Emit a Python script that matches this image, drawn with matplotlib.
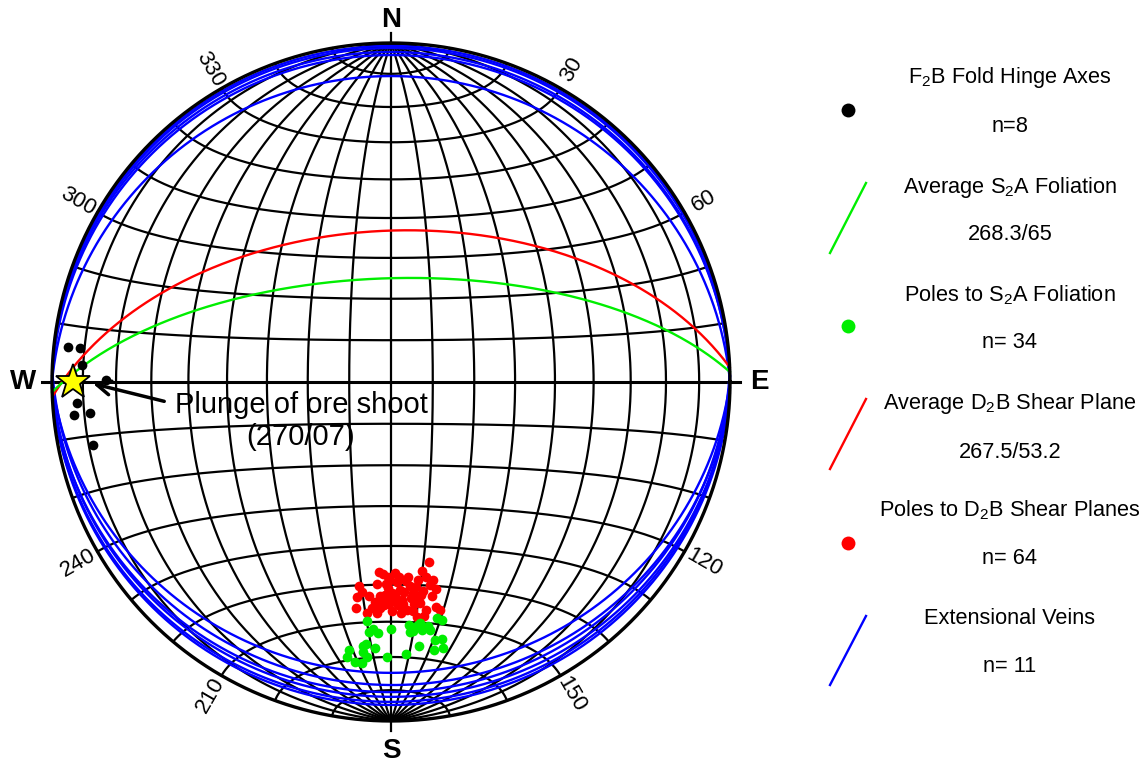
import numpy as np
import matplotlib.pyplot as plt

plt.rcParams['font.family'] = ['Liberation Sans', 'DejaVu Sans']
plt.rcParams['mathtext.fontset'] = 'custom'
plt.rcParams['mathtext.rm'] = 'Liberation Sans'
plt.rcParams['mathtext.it'] = 'Liberation Sans:italic'

# F2B fold hinge axes (trend, plunge)
hinge_trend = [276.2, 276.2, 273.1, 270.4, 266.2, 264.1, 264.1, 258.1]
hinge_plunge = [4.7, 8.5, 9.6, 17.1, 7.9, 6.7, 11.7, 11.1]

# poles to S2A foliation (trend, plunge)
s2a_trend = [185.7, 184.2, 185.0, 183.0, 180.0, 175.8, 175.7, 173.7, 172.9, 171.1,
             172.3, 174.4, 169.0, 167.9, 168.8, 173.9, 170.9, 168.9, 176.8, 180.8,
             186.1, 185.9, 188.9, 189.1, 185.0, 185.9, 175.0, 185.5, 173.1, 171.4,
             170.3, 175.1, 183.4, 187.3]
s2a_plunge = [29.8, 27.7, 26.8, 26.7, 27.9, 28.9, 26.9, 28.6, 27.1, 26.8,
              27.9, 28.2, 29.8, 28.9, 23.7, 22.7, 21.0, 21.1, 20.7, 19.9,
              22.7, 21.0, 21.0, 18.9, 19.7, 17.8, 27.1, 23.4, 29.1, 28.0,
              23.8, 28.0, 22.4, 17.8]

# poles to D2B shear planes (trend, plunge)
d2b_trend = [168.1, 183.6, 182.4, 180.9, 178.8, 175.0, 170.7, 169.8, 175.7, 188.9,
             184.0, 180.8, 177.5, 173.0, 169.1, 167.7, 189.0, 181.6, 178.9, 174.0,
             182.4, 179.7, 177.1, 172.9, 183.3, 181.8, 176.9, 172.5, 188.8, 182.8,
             179.7, 176.0, 168.7, 167.9, 185.9, 183.5, 173.7, 172.0, 174.7, 178.3,
             172.0, 181.1, 184.2, 178.2, 174.1, 179.7, 176.5, 180.5, 171.3, 168.0,
             185.9, 181.4, 174.7, 178.7, 182.9, 171.3, 169.2, 187.9, 180.3, 174.5,
             177.5, 184.8, 172.2, 177.7]
d2b_plunge = [44.9, 43.2, 42.7, 42.0, 43.0, 41.8, 42.9, 41.2, 40.8, 38.9,
              40.0, 39.1, 38.5, 38.9, 38.9, 37.5, 36.0, 37.2, 37.5, 37.5,
              35.6, 35.9, 35.8, 35.7, 34.5, 34.6, 34.8, 34.6, 33.1, 33.7,
              33.0, 33.1, 32.8, 31.8, 32.1, 32.3, 30.9, 30.9, 39.4, 40.7,
              36.7, 36.2, 35.2, 34.6, 34.6, 37.7, 37.9, 34.9, 37.6, 40.1,
              36.7, 40.2, 36.2, 36.4, 36.9, 32.5, 36.0, 37.5, 41.2, 32.7,
              32.4, 33.5, 40.8, 42.0]

# mean planes, right-hand-rule strike / dip
s2a_mean = (268.3, 65)
d2b_mean = (267.5, 53.2)

# extensional veins, right-hand-rule strike / dip
vein_strike = [270, 268, 272, 269, 270, 90, 92, 88, 91, 89, 90]
vein_dip = [1.0, 1.7, 3.0, 4.0, 10.7, 15.3, 11.6, 9.4, 7.9, 6.3, 5.3]

# plunge of ore shoot (trend, plunge)
ore_shoot = (270, 7)


def project(e, n, d):
    # lower hemisphere equal-area (Schmidt) projection of unit vectors
    k = 1.0 / np.sqrt(1.0 + d)
    return e * k, n * k


def line_xy(trend, plunge):
    t = np.radians(np.asarray(trend, float))
    p = np.radians(np.asarray(plunge, float))
    return project(np.cos(p) * np.sin(t), np.cos(p) * np.cos(t), np.sin(p))


def plane_xy(strike, dip):
    s = np.radians(strike)
    dp = np.radians(dip)
    a = np.linspace(0, np.pi, 361)
    sv = np.array([np.sin(s), np.cos(s), 0.0])
    dv = np.array([np.cos(dp) * np.sin(s + np.pi / 2),
                   np.cos(dp) * np.cos(s + np.pi / 2), np.sin(dp)])
    v = np.outer(np.cos(a), sv) + np.outer(np.sin(a), dv)
    return project(v[:, 0], v[:, 1], np.clip(v[:, 2], 0, 1))


fig = plt.figure(figsize=(11.46, 7.65), dpi=100)
ax = fig.add_axes([0, 0, 1, 1])
ax.set_xlim(-1.1534, 2.2271)
ax.set_ylim(-1.1298, 1.1268)
ax.axis('off')

# net: meridians through N and S, small circles about the N-S axis
grid_kw = dict(color='black', lw=1.6, zorder=1)
phi = np.radians(np.linspace(-90, 90, 361))
for lam in range(-80, 90, 10):
    if lam == 0:
        continue
    l = np.radians(lam)
    x, y = project(np.cos(phi) * np.sin(l), np.sin(phi), np.cos(phi) * np.cos(l))
    ax.plot(x, y, **grid_kw)
lam_all = np.radians(np.linspace(-90, 90, 361))
for lat in range(-80, 90, 10):
    if lat == 0:
        continue
    f = np.radians(lat)
    x, y = project(np.cos(f) * np.sin(lam_all), np.full_like(lam_all, np.sin(f)),
                   np.cos(f) * np.cos(lam_all))
    ax.plot(x, y, **grid_kw)
ax.plot([-1.03, 1.03], [0, 0], color='black', lw=2.2, zorder=1)
ax.plot([0, 0], [-1.03, 1.03], color='black', lw=1.6, zorder=1)
circ = np.linspace(0, 2 * np.pi, 721)
ax.plot(np.cos(circ), np.sin(circ), color='black', lw=2.4, zorder=3)

# cardinal and azimuth labels
ax.text(0, 1.068, 'N', ha='center', va='center', fontsize=20, fontweight='bold')
ax.text(0, -1.088, 'S', ha='center', va='center', fontsize=20, fontweight='bold')
ax.text(-1.084, 0, 'W', ha='center', va='center', fontsize=20, fontweight='bold')
ax.text(1.086, 0, 'E', ha='center', va='center', fontsize=20, fontweight='bold')
for az in [30, 60, 120, 150, 210, 240, 300, 330]:
    ang = 90 - az
    rot = (ang + 90) % 180 - 90
    r = 1.065
    ax.text(r * np.sin(np.radians(az)), r * np.cos(np.radians(az)), str(az),
            ha='center', va='center', rotation=rot, rotation_mode='anchor',
            fontsize=16)

# great circles
for s, d in zip(vein_strike, vein_dip):
    x, y = plane_xy(s, d)
    ax.plot(x, y, color='#0000ff', lw=1.7, zorder=2)
x, y = plane_xy(*d2b_mean)
ax.plot(x, y, color='#ff0000', lw=1.7, zorder=2)
x, y = plane_xy(*s2a_mean)
ax.plot(x, y, color='#00ee00', lw=1.7, zorder=2)

# lineations and poles
x, y = line_xy(d2b_trend, d2b_plunge)
ax.plot(x, y, 'o', color='#ff0000', ms=7, mew=0, zorder=4)
x, y = line_xy(s2a_trend, s2a_plunge)
ax.plot(x, y, 'o', color='#00ee00', ms=7, mew=0, zorder=4)
x, y = line_xy(hinge_trend, hinge_plunge)
ax.plot(x, y, 'o', color='black', ms=7, mew=0, zorder=4)

sx, sy = line_xy(*ore_shoot)
ax.plot(sx, sy, '*', color='#ffff00', mec='black', mew=1.3, ms=26, zorder=6)
ax.annotate('', xy=(sx + 0.05, sy - 0.003), xytext=(-0.661, -0.059),
            arrowprops=dict(arrowstyle='->', lw=2.5, color='black',
                            mutation_scale=25), zorder=5)
ax.text(-0.265, -0.068, 'Plunge of ore shoot', ha='center', va='center', fontsize=21)
ax.text(-0.268, -0.162, '(%d/%02d)' % ore_shoot, ha='center', va='center', fontsize=21)

# legend
tx = 1010 / 1146
fs = 15.7
def ftext(y, s):
    fig.text(tx, 1 - y / 765, s, ha='center', va='center', fontsize=fs)

def fdot(y, c):
    fig.lines.append(plt.Line2D([848 / 1146], [1 - y / 765], marker='o', ms=10,
                                color=c, mew=0, transform=fig.transFigure))

def fline(y0, y1, c):
    fig.lines.append(plt.Line2D([830 / 1146, 866 / 1146], [1 - y0 / 765, 1 - y1 / 765],
                                color=c, lw=1.7, transform=fig.transFigure))

ftext(77, r'F$_2$B Fold Hinge Axes')
ftext(127, 'n=%d' % len(hinge_trend))
fdot(110, 'black')
ftext(187, r'Average S$_2$A Foliation')
ftext(235, '%.1f/%g' % s2a_mean)
fline(253, 183, '#00ee00')
ftext(295, r'Poles to S$_2$A Foliation')
ftext(343, 'n= %d' % len(s2a_trend))
fdot(326, '#00ee00')
ftext(403, r'Average D$_2$B Shear Plane')
ftext(452, '%.1f/%.1f' % d2b_mean)
fline(469, 399, '#ff0000')
ftext(510, r'Poles to D$_2$B Shear Planes')
ftext(559, 'n= %d' % len(d2b_trend))
fdot(543, '#ff0000')
ftext(618, 'Extensional Veins')
ftext(667, 'n= %d' % len(vein_strike))
fline(685, 616, '#0000ff')

fig.savefig('out.png', dpi=100)
